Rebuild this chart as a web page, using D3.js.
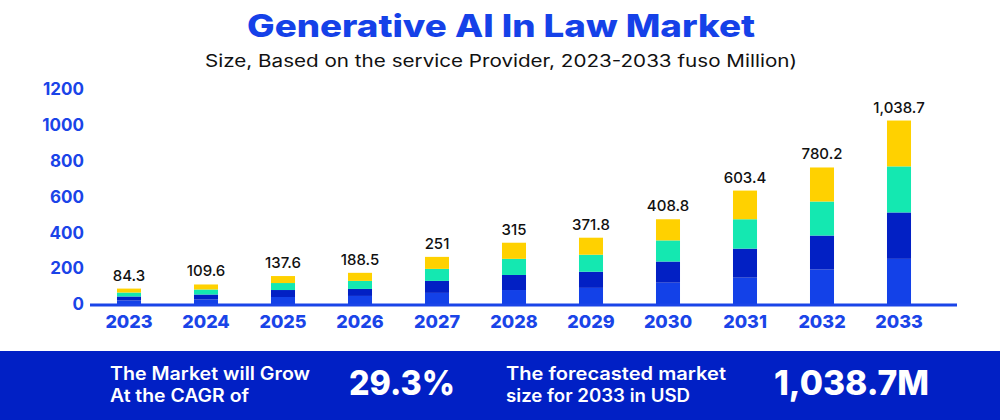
<!DOCTYPE html>
<html>
<head>
<meta charset="utf-8">
<script src="https://cdn.jsdelivr.net/npm/d3@7"></script>
<style>
  html, body { margin: 0; padding: 0; background: #ffffff; }
  svg { display: block; }
  text { font-family: Inter, "Noto Sans", sans-serif; }
</style>
</head>
<body>
<svg id="chart" width="1000" height="420"></svg>
<script>
// ---- data ----
const years = ["2023","2024","2025","2026","2027","2028","2029","2030","2031","2032","2033"];
const totalLabels = ["84.3","109.6","137.6","188.5","251","315","371.8","408.8","603.4","780.2","1,038.7"];
// stacked segments as drawn (bottom to top)
const segA = [20, 25, 39, 45, 62, 78, 90, 119, 147, 192, 252];   // bright blue
const segB = [22, 28, 39, 39, 67, 84, 90, 118, 162, 190, 259];   // dark blue
const segC = [22, 28, 39, 45, 67, 90, 95, 118, 164, 190, 257];   // teal
const segD = [22, 28, 39, 45, 67, 90, 95, 118, 160, 190, 256];   // yellow
const yTicks = [0, 200, 400, 600, 800, 1000, 1200];
const seriesKeys = ["a","b","c","d"];
const seriesColors = ["#1341E8", "#0220C4", "#14E8B1", "#FFD100"];
const titleText = "Generative AI In Law Market";
const subtitleText = "Size, Based on the service Provider, 2023-2033 fuso Million)";
const footer1 = ["The Market will Grow", "At the CAGR of"];
const footer1Widths = [200, 139];
const footerValue1 = "29.3%";
const footer2 = ["The forecasted market", "size for 2033 in USD"];
const footer2Widths = [220, 184];
const footerValue2 = "1,038.7M";

// ---- build ----
const svg = d3.select("#chart");
const W = 1000, H = 420;
const blue = "#1A44E8";

const rows = years.map((yr, i) => ({year: yr, a: segA[i], b: segB[i], c: segC[i], d: segD[i], label: totalLabels[i]}));
const stacked = d3.stack().keys(seriesKeys)(rows);

const x = d3.scaleBand().domain(years).range([90.5, 937.5]).paddingInner(0.688).paddingOuter(0.344);
const y = d3.scaleLinear().domain([0, 1200]).range([304, 89]);

// title
svg.append("text").attr("x", 501).attr("y", 37).attr("text-anchor", "middle")
  .attr("font-size", 31).attr("font-weight", 800).attr("fill", "#1541E8")
  .attr("textLength", 508).attr("lengthAdjust", "spacingAndGlyphs")
  .text(titleText);
svg.append("text").attr("x", 501).attr("y", 67).attr("text-anchor", "middle")
  .attr("font-size", 17).attr("font-weight", 400).attr("fill", "#111")
  .attr("textLength", 592).attr("lengthAdjust", "spacingAndGlyphs")
  .text(subtitleText);

// y axis
const yAxis = svg.append("g").attr("transform", "translate(84,0)")
  .call(d3.axisLeft(y).tickValues(yTicks).tickSize(0).tickPadding(0).tickFormat(d3.format("d")));
yAxis.select(".domain").remove();
yAxis.selectAll("text").attr("font-family", "Inter, sans-serif").attr("font-size", 17)
  .attr("font-weight", 700).attr("fill", blue).attr("dy", "0.34em");

// bars
svg.append("g").selectAll("g").data(stacked).join("g")
  .attr("fill", (d, i) => seriesColors[i])
  .selectAll("rect").data(d => d).join("rect")
  .attr("x", d => x(d.data.year))
  .attr("width", x.bandwidth())
  .attr("y", d => y(d[1]))
  .attr("height", d => y(d[0]) - y(d[1]));

// baseline
svg.append("rect").attr("x", 90).attr("y", 303.5).attr("width", 867).attr("height", 3).attr("fill", blue);

// x axis labels
const xAxis = svg.append("g").attr("transform", "translate(0,306)")
  .call(d3.axisBottom(x).tickSize(0).tickPadding(0));
xAxis.select(".domain").remove();
xAxis.selectAll("text").attr("font-family", "Inter, sans-serif").attr("font-size", 18)
  .attr("font-weight", 800).attr("fill", blue).attr("dy", "1.2em");

// value labels
const topLayer = stacked[stacked.length - 1];
svg.append("g").selectAll("text").data(topLayer).join("text")
  .attr("x", d => x(d.data.year) + x.bandwidth() / 2)
  .attr("y", d => y(d[1]) - 8)
  .attr("text-anchor", "middle")
  .attr("font-size", 15).attr("font-weight", 500).attr("fill", "#111")
  .text(d => d.data.label);

// footer band
svg.append("rect").attr("x", 0).attr("y", 351).attr("width", W).attr("height", H - 351).attr("fill", "#0120C5");
const f = svg.append("g").attr("fill", "#ffffff");
footer1.forEach((t, i) => {
  f.append("text").attr("x", 110).attr("y", 380 + i * 22).attr("font-size", 18).attr("font-weight", 600)
    .attr("textLength", footer1Widths[i]).attr("lengthAdjust", "spacingAndGlyphs").text(t);
});
f.append("text").attr("x", 349).attr("y", 395).attr("font-size", 34).attr("font-weight", 800)
  .attr("textLength", 106).attr("lengthAdjust", "spacingAndGlyphs").text(footerValue1);
footer2.forEach((t, i) => {
  f.append("text").attr("x", 506).attr("y", 380 + i * 22).attr("font-size", 18).attr("font-weight", 600)
    .attr("textLength", footer2Widths[i]).attr("lengthAdjust", "spacingAndGlyphs").text(t);
});
f.append("text").attr("x", 774).attr("y", 395).attr("font-size", 34).attr("font-weight", 800)
  .attr("textLength", 155).attr("lengthAdjust", "spacingAndGlyphs").text(footerValue2);
</script>
</body>
</html>
